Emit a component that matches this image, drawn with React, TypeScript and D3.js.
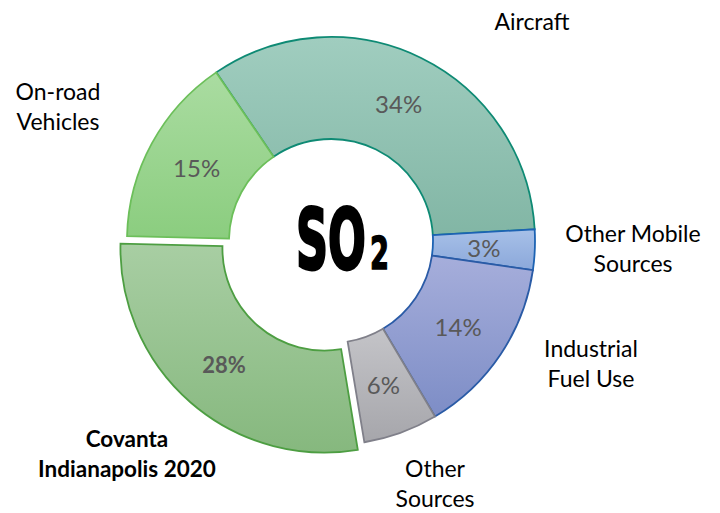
import React from "react";
import * as d3 from "d3";

const categories = ["Aircraft", "Other Mobile Sources", "Industrial Fuel Use", "Other Sources", "Covanta Indianapolis 2020", "On-road Vehicles"];
const values = [33.6, 3.2, 14.2, 5.9, 28.0, 15.1];
const labelLines = [["Aircraft"], ["Other Mobile", "Sources"], ["Industrial", "Fuel Use"], ["Other", "Sources"], ["Covanta", "Indianapolis 2020"], ["On-road", "Vehicles"]];
const fillTop = ["#a0cdbf", "#a7c0e8", "#a6aedb", "#c4c4c8", "#a8cea3", "#aadca1"];
const fillBottom = ["#82b6a5", "#8ba8da", "#7d8dc6", "#a6a6ab", "#86b87e", "#8bcd7f"];
const strokes = ["#0e8a74", "#1d63b3", "#2a5ba6", "#80808a", "#4d9e42", "#6cbf5a"];
const exploded = [0, 0, 0, 0, 10, 0];
const bold = [false, false, false, false, true, false];
// label anchor positions (center x, first baseline y)
const labelPos: [number, number][] = [[532, 30], [633, 242], [591, 357], [435, 477], [127, 447], [58, 100]];

const W = 720, H = 513;
const cx = 331, cy = 241;
const R = 204, r0 = 102;
const startDeg = -34.25;

export default function App() {
  const pie = d3.pie<number>().sort(null).value((d) => d)
    .startAngle((startDeg * Math.PI) / 180)
    .endAngle(((startDeg + 360) * Math.PI) / 180);
  const arcs = pie(values);
  const arc = d3.arc<d3.PieArcDatum<number>>().innerRadius(r0).outerRadius(R);
  const fmt = (v: number) => `${Math.round(v)}%`;
  const font = "Lato, 'Open Sans', sans-serif";
  return (
    <svg width={W} height={H} style={{ position: "absolute", left: 0, top: 0, background: "#fff" }}>
      <defs>
        {arcs.map((a, i) => (
          <linearGradient key={i} id={`g${i}`} x1="0" y1="0" x2="0" y2="1">
            <stop offset="0%" stopColor={fillTop[i]} />
            <stop offset="100%" stopColor={fillBottom[i]} />
          </linearGradient>
        ))}
      </defs>
      <g transform={`translate(${cx},${cy})`}>
        {arcs.map((a, i) => {
          const mid = (a.startAngle + a.endAngle) / 2;
          const dx = exploded[i] * Math.sin(mid);
          const dy = -exploded[i] * Math.cos(mid);
          const [lx, ly] = arc.centroid(a);
          return (
            <g key={i} transform={`translate(${dx},${dy})`}>
              <path d={arc(a) || ""} fill={`url(#g${i})`} stroke={strokes[i]} strokeWidth={1.8} />
              <text x={lx} y={ly} textAnchor="middle" dominantBaseline="central"
                fontFamily={font} fontSize={bold[i] ? 22 : 24} fill="#595959" fontWeight={bold[i] ? 700 : 400}>
                {fmt(values[i])}
              </text>
            </g>
          );
        })}
      </g>
      {labelLines.map((lines, i) => (
        <text key={i} textAnchor="middle" fontFamily={font} fontSize={bold[i] ? 22.5 : 23} fill="#000" fontWeight={bold[i] ? 700 : 400}>
          {lines.map((t, j) => (
            <tspan key={j} x={labelPos[i][0]} y={labelPos[i][1] + j * 30}>{t}</tspan>
          ))}
        </text>
      ))}
      <g transform={`translate(${cx},${cy})`}>
        <text transform="translate(-35,27.5) scale(0.53,1)" fontFamily="'DejaVu Sans'" fontWeight={700} fontSize={84}
          fill="#000" stroke="#000" strokeWidth={3}>SO</text>
        <text transform="translate(39,27.5) scale(0.62,1)" fontFamily="'DejaVu Sans'" fontWeight={700} fontSize={44}
          fill="#000" stroke="#000" strokeWidth={1.5}>2</text>
      </g>
    </svg>
  );
}
